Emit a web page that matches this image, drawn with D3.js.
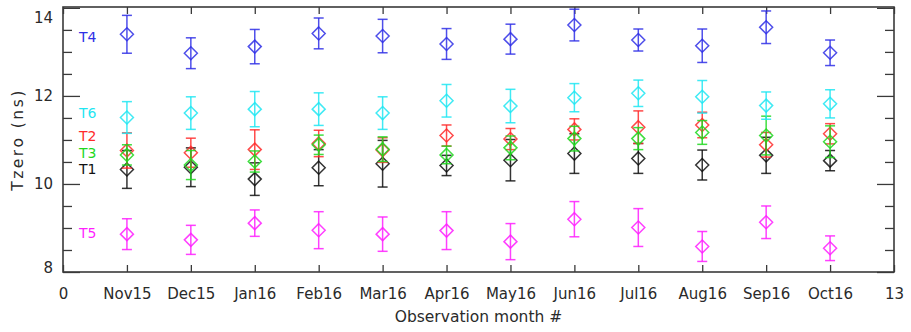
<!DOCTYPE html>
<html>
<head>
<meta charset="utf-8">
<script src="https://cdn.jsdelivr.net/npm/d3@7"></script>
<style>
  html, body { margin: 0; padding: 0; background: #fff; }
  svg text { font-family: "DejaVu Sans", sans-serif; fill: #2a2a2a; }
</style>
</head>
<body>
<svg id="chart" width="911" height="332"></svg>
<script>
// Monthly Tzero calibration per channel, with 1-sigma uncertainties (ns)
const months = ["Nov15", "Dec15", "Jan16", "Feb16", "Mar16", "Apr16",
                "May16", "Jun16", "Jul16", "Aug16", "Sep16", "Oct16"];
const monthIndex = [1, 2, 3, 4, 5, 6, 7, 8, 9, 10, 11, 12];
const xTickValues = [0, 1, 2, 3, 4, 5, 6, 7, 8, 9, 10, 11, 12, 13];
const xTickLabels = ["0", ...months, "13"];
const yTickValues = [8, 10, 12, 14];
const yMinorValues = [8.5, 9, 9.5, 10.5, 11, 11.5, 12.5, 13, 13.5];

const channels = ["T1", "T2", "T3", "T4", "T5", "T6"];
const channelColors = ["#111111", "#ff2a2a", "#1ed81e", "#2f2fe6", "#ff1fff", "#1fe6f2"];
// vertical level of each channel's name tag on the left
const labelLevels = [10.33, 11.08, 10.70, 13.34, 8.89, 11.61];

const t1 = [10.33, 10.38, 10.11, 10.37, 10.46, 10.42, 10.54, 10.69, 10.58, 10.43, 10.65, 10.53];
const t1Err = [0.43, 0.44, 0.37, 0.41, 0.53, 0.23, 0.47, 0.45, 0.34, 0.34, 0.41, 0.23];
const t2 = [10.76, 10.71, 10.78, 10.92, 10.77, 11.10, 11.02, 11.24, 11.29, 11.34, 10.89, 11.14];
const t2Err = [0.40, 0.33, 0.45, 0.30, 0.28, 0.24, 0.24, 0.24, 0.37, 0.29, 0.28, 0.23];
const t3 = [10.66, 10.43, 10.51, 10.89, 10.79, 10.66, 10.82, 11.03, 11.03, 11.17, 11.10, 10.96];
const t3Err = [0.23, 0.33, 0.24, 0.22, 0.28, 0.20, 0.27, 0.28, 0.25, 0.27, 0.44, 0.36];
const t4 = [13.40, 12.97, 13.12, 13.42, 13.36, 13.18, 13.29, 13.61, 13.27, 13.14, 13.56, 12.98];
const t4Err = [0.43, 0.35, 0.39, 0.35, 0.38, 0.35, 0.34, 0.36, 0.25, 0.38, 0.37, 0.29];
const t5 = [8.86, 8.73, 9.11, 8.95, 8.86, 8.94, 8.69, 9.20, 9.01, 8.58, 9.13, 8.54];
const t5Err = [0.35, 0.33, 0.30, 0.42, 0.39, 0.43, 0.41, 0.40, 0.43, 0.34, 0.37, 0.28];
const t6 = [11.51, 11.61, 11.70, 11.70, 11.61, 11.89, 11.77, 11.96, 12.06, 11.98, 11.78, 11.82];
const t6Err = [0.36, 0.37, 0.40, 0.37, 0.37, 0.37, 0.38, 0.32, 0.30, 0.37, 0.31, 0.32];

const values = [t1, t2, t3, t4, t5, t6];
const errors = [t1Err, t2Err, t3Err, t4Err, t5Err, t6Err];

const margin = { left: 63, right: 17, top: 7, bottom: 60 };
const W = 911, H = 332;
const svg = d3.select("#chart");

const x = d3.scaleLinear().domain([0, 13]).range([margin.left, W - margin.right]);
const y = d3.scaleLinear().domain([8, 14.02]).range([H - margin.bottom, margin.top]);

const axisColor = "#3a3a3a";
function styleAxis(g) {
  g.select(".domain").remove();
  g.selectAll(".tick line").attr("stroke", axisColor).attr("stroke-width", 1.3);
}

// bottom axis with month names, ticks pointing up into the plot
const xAxis = svg.append("g")
  .attr("transform", `translate(0,${y.range()[0]})`)
  .call(d3.axisBottom(x).tickValues(xTickValues)
    .tickFormat((d, i) => xTickLabels[i]).tickSize(-7).tickPadding(16));
styleAxis(xAxis);
xAxis.selectAll("text").attr("font-size", 15).style("font-family", "DejaVu Sans, sans-serif");

// top axis: ticks only
const xTop = svg.append("g")
  .attr("transform", `translate(0,${y.range()[1]})`)
  .call(d3.axisTop(x).tickValues(xTickValues).tickFormat("").tickSize(-7));
styleAxis(xTop);

// left axis: major ticks with labels, then minor ticks
const yAxis = svg.append("g")
  .attr("transform", `translate(${x.range()[0]},0)`)
  .call(d3.axisLeft(y).tickValues(yTickValues).tickFormat(d3.format("d"))
    .tickSize(-17).tickPadding(10));
styleAxis(yAxis);
yAxis.selectAll("text").attr("font-size", 15)
  .attr("dy", d => d === 14 ? "0.95em" : d === 8 ? "0.0em" : "0.32em");

const yMinor = svg.append("g")
  .attr("transform", `translate(${x.range()[0]},0)`)
  .call(d3.axisLeft(y).tickValues(yMinorValues).tickFormat("").tickSize(-9));
styleAxis(yMinor);

// right axis: ticks only
const yRight = svg.append("g")
  .attr("transform", `translate(${x.range()[1]},0)`)
  .call(d3.axisRight(y).tickValues(yTickValues).tickFormat("").tickSize(-17));
styleAxis(yRight);
const yRightMinor = svg.append("g")
  .attr("transform", `translate(${x.range()[1]},0)`)
  .call(d3.axisRight(y).tickValues(yMinorValues).tickFormat("").tickSize(-9));
styleAxis(yRightMinor);

// plot frame
svg.append("rect")
  .attr("x", x.range()[0]).attr("y", y.range()[1])
  .attr("width", x.range()[1] - x.range()[0])
  .attr("height", y.range()[0] - y.range()[1])
  .attr("fill", "none").attr("stroke", axisColor).attr("stroke-width", 1.6);

// axis titles
svg.append("text")
  .attr("x", (x.range()[0] + x.range()[1]) / 2)
  .attr("y", H - 10)
  .attr("text-anchor", "middle")
  .attr("font-size", 15.5)
  .text("Observation month #");

svg.append("text")
  .attr("transform", `translate(23,${(y.range()[0] + y.range()[1]) / 2}) rotate(-90)`)
  .attr("text-anchor", "middle")
  .attr("font-size", 15.5)
  .attr("letter-spacing", "2.5px")
  .text("Tzero (ns)");

// error bars and diamond markers for each channel
const capHalf = 5, dHalf = 6.5;
channels.forEach((name, c) => {
  const color = channelColors[c];
  const g = svg.append("g").attr("class", "series-" + name)
    .attr("stroke", color).attr("stroke-width", 1.5).attr("fill", "none")
    .attr("stroke-opacity", 0.85);
  const pts = monthIndex.map((m, i) => ({ m, v: values[c][i], e: errors[c][i] }));

  g.selectAll("line.bar").data(pts).join("line").attr("class", "bar")
    .attr("x1", d => x(d.m)).attr("x2", d => x(d.m))
    .attr("y1", d => y(d.v - d.e)).attr("y2", d => y(d.v + d.e));
  g.selectAll("line.capTop").data(pts).join("line").attr("class", "capTop")
    .attr("x1", d => x(d.m) - capHalf).attr("x2", d => x(d.m) + capHalf)
    .attr("y1", d => y(d.v + d.e)).attr("y2", d => y(d.v + d.e));
  g.selectAll("line.capBot").data(pts).join("line").attr("class", "capBot")
    .attr("x1", d => x(d.m) - capHalf).attr("x2", d => x(d.m) + capHalf)
    .attr("y1", d => y(d.v - d.e)).attr("y2", d => y(d.v - d.e));
  g.selectAll("path.diamond").data(pts).join("path").attr("class", "diamond")
    .attr("d", d => {
      const cx = x(d.m), cy = y(d.v);
      return `M${cx},${cy - dHalf}L${cx + dHalf},${cy}L${cx},${cy + dHalf}L${cx - dHalf},${cy}Z`;
    });

  svg.append("text")
    .attr("x", x(0.25))
    .attr("y", y(labelLevels[c]))
    .attr("dy", "0.35em")
    .attr("font-size", 14)
    .style("fill", color)
    .text(name);
});
</script>
</body>
</html>
